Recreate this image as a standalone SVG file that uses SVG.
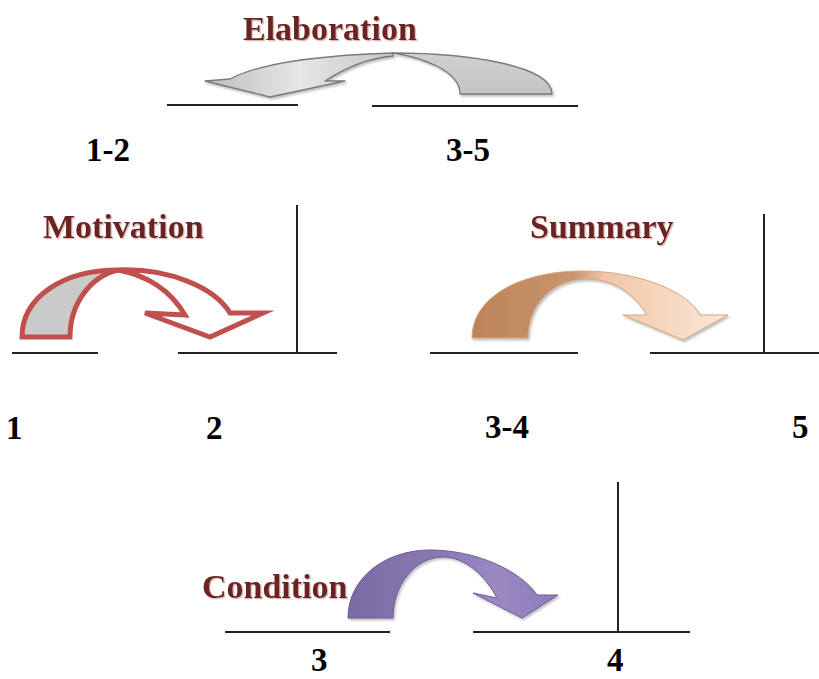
<svg xmlns="http://www.w3.org/2000/svg" width="819" height="679" viewBox="0 0 819 679">
<style>
.title{font-family:"Liberation Serif","Times New Roman",serif;font-weight:bold;font-size:34px;fill:#6b2324;filter:url(#tshadow);}
.num{font-family:"Liberation Serif","Times New Roman",serif;font-weight:bold;font-size:33px;fill:#000;}
.ln{stroke:#222;stroke-width:2;fill:none;}
</style>
<defs>
<filter id="tshadow" x="-10%" y="-20%" width="120%" height="150%"><feDropShadow dx="1.2" dy="1.2" stdDeviation="0.6" flood-color="#d8b0a8" flood-opacity="0.9"/></filter>
<filter id="ashadow" x="-10%" y="-20%" width="130%" height="150%"><feDropShadow dx="1.5" dy="2" stdDeviation="1.2" flood-color="#777" flood-opacity="0.45"/></filter>
<linearGradient id="gElabL" x1="0" y1="0" x2="1" y2="0"><stop offset="0" stop-color="#bdbdbd"/><stop offset="0.5" stop-color="#e6e6e6"/><stop offset="1" stop-color="#c6c6c6"/></linearGradient>
<linearGradient id="gElabR" x1="0" y1="0" x2="0" y2="1"><stop offset="0" stop-color="#d0d0d0"/><stop offset="1" stop-color="#c4c4c4"/></linearGradient>
<linearGradient id="gSum" gradientUnits="userSpaceOnUse" x1="472" y1="0" x2="728" y2="0"><stop offset="0" stop-color="#bd8457"/><stop offset="0.4" stop-color="#c9956f"/><stop offset="0.52" stop-color="#efc7a8"/><stop offset="1" stop-color="#fde7d6"/></linearGradient>
<linearGradient id="gCond" gradientUnits="userSpaceOnUse" x1="348" y1="0" x2="558" y2="0"><stop offset="0" stop-color="#7a6aa4"/><stop offset="0.45" stop-color="#8a7ab5"/><stop offset="0.7" stop-color="#9a89c3"/><stop offset="1" stop-color="#8d7cb8"/></linearGradient>
</defs>

<g id="connectors">
<line class="ln" x1="167" y1="105" x2="298" y2="105"/>
<line class="ln" x1="372" y1="106" x2="578" y2="106"/>
<line class="ln" x1="12" y1="353" x2="98" y2="353"/>
<line class="ln" x1="178" y1="353" x2="337" y2="353"/>
<line class="ln" x1="297" y1="205" x2="297" y2="353"/>
<line class="ln" x1="430" y1="353" x2="578" y2="353"/>
<line class="ln" x1="650" y1="353" x2="819" y2="353"/>
<line class="ln" x1="764" y1="214" x2="764" y2="353"/>
<line class="ln" x1="225" y1="632" x2="390" y2="632"/>
<line class="ln" x1="473" y1="632" x2="690" y2="632"/>
<line class="ln" x1="618" y1="482" x2="618" y2="632"/>
</g>

<g id="elaboration">
<g filter="url(#ashadow)" stroke="#7a7a7a" stroke-width="1.3" stroke-linejoin="round">
<path d="M552,94 C552,66 470,53 393,53 C420,57 460,70 460,94 Z" fill="url(#gElabR)"/>
<path d="M393,53 C330,55 262,62 230,79 L205,81 L270,97 L345,81 L325,81 C345,68 370,58 393,56 Z" fill="url(#gElabL)"/>
</g>
<text class="title" x="243" y="40">Elaboration</text>
</g>

<g id="seg-1-2"><text class="num" x="86" y="161">1-2</text></g>
<g id="seg-3-5"><text class="num" x="446" y="161">3-5</text></g>

<g id="motivation">
<g stroke="#c0504d" stroke-width="5" stroke-linejoin="miter" stroke-miterlimit="6">
<path d="M118,270 C170,268 215,288 230,313 L263,313 L210,337 L145,313 L185,315 C172,293 150,276 118,270 Z" fill="#ffffff"/>
<path d="M22,337 C22,298 62,270 118,270 C92,276 70,302 70,337 Z" fill="#cacaca"/>
</g>
<text class="title" x="43" y="238">Motivation</text>
</g>

<g id="summary">
<path filter="url(#ashadow)" d="M472,338 C472,296 522,271 582,271 C640,271 688,292 700,315 L728,315 L683,340 L623,315 L647,315 C635,295 615,279 587,279 C552,279 528,305 528,338 Z" fill="url(#gSum)" stroke="#d9a77f" stroke-width="1"/>
<text class="title" x="530" y="238">Summary</text>
</g>

<g id="seg-1"><text class="num" x="6" y="439">1</text></g>
<g id="seg-2"><text class="num" x="206" y="439">2</text></g>
<g id="seg-3-4"><text class="num" x="485" y="438">3-4</text></g>
<g id="seg-5"><text class="num" x="792" y="438">5</text></g>

<g id="condition">
<path filter="url(#ashadow)" d="M348,618 C348,578 385,550 430,550 C475,550 520,570 537,595 L558,595 L522,618 L473,593 L497,598 C485,575 465,557 443,557 C415,557 393,585 393,618 Z" fill="url(#gCond)" stroke="#6d5e96" stroke-width="1"/>
<text class="title" x="202" y="598">Condition</text>
</g>

<g id="seg-3"><text class="num" x="311" y="671">3</text></g>
<g id="seg-4"><text class="num" x="607" y="671">4</text></g>
</svg>
